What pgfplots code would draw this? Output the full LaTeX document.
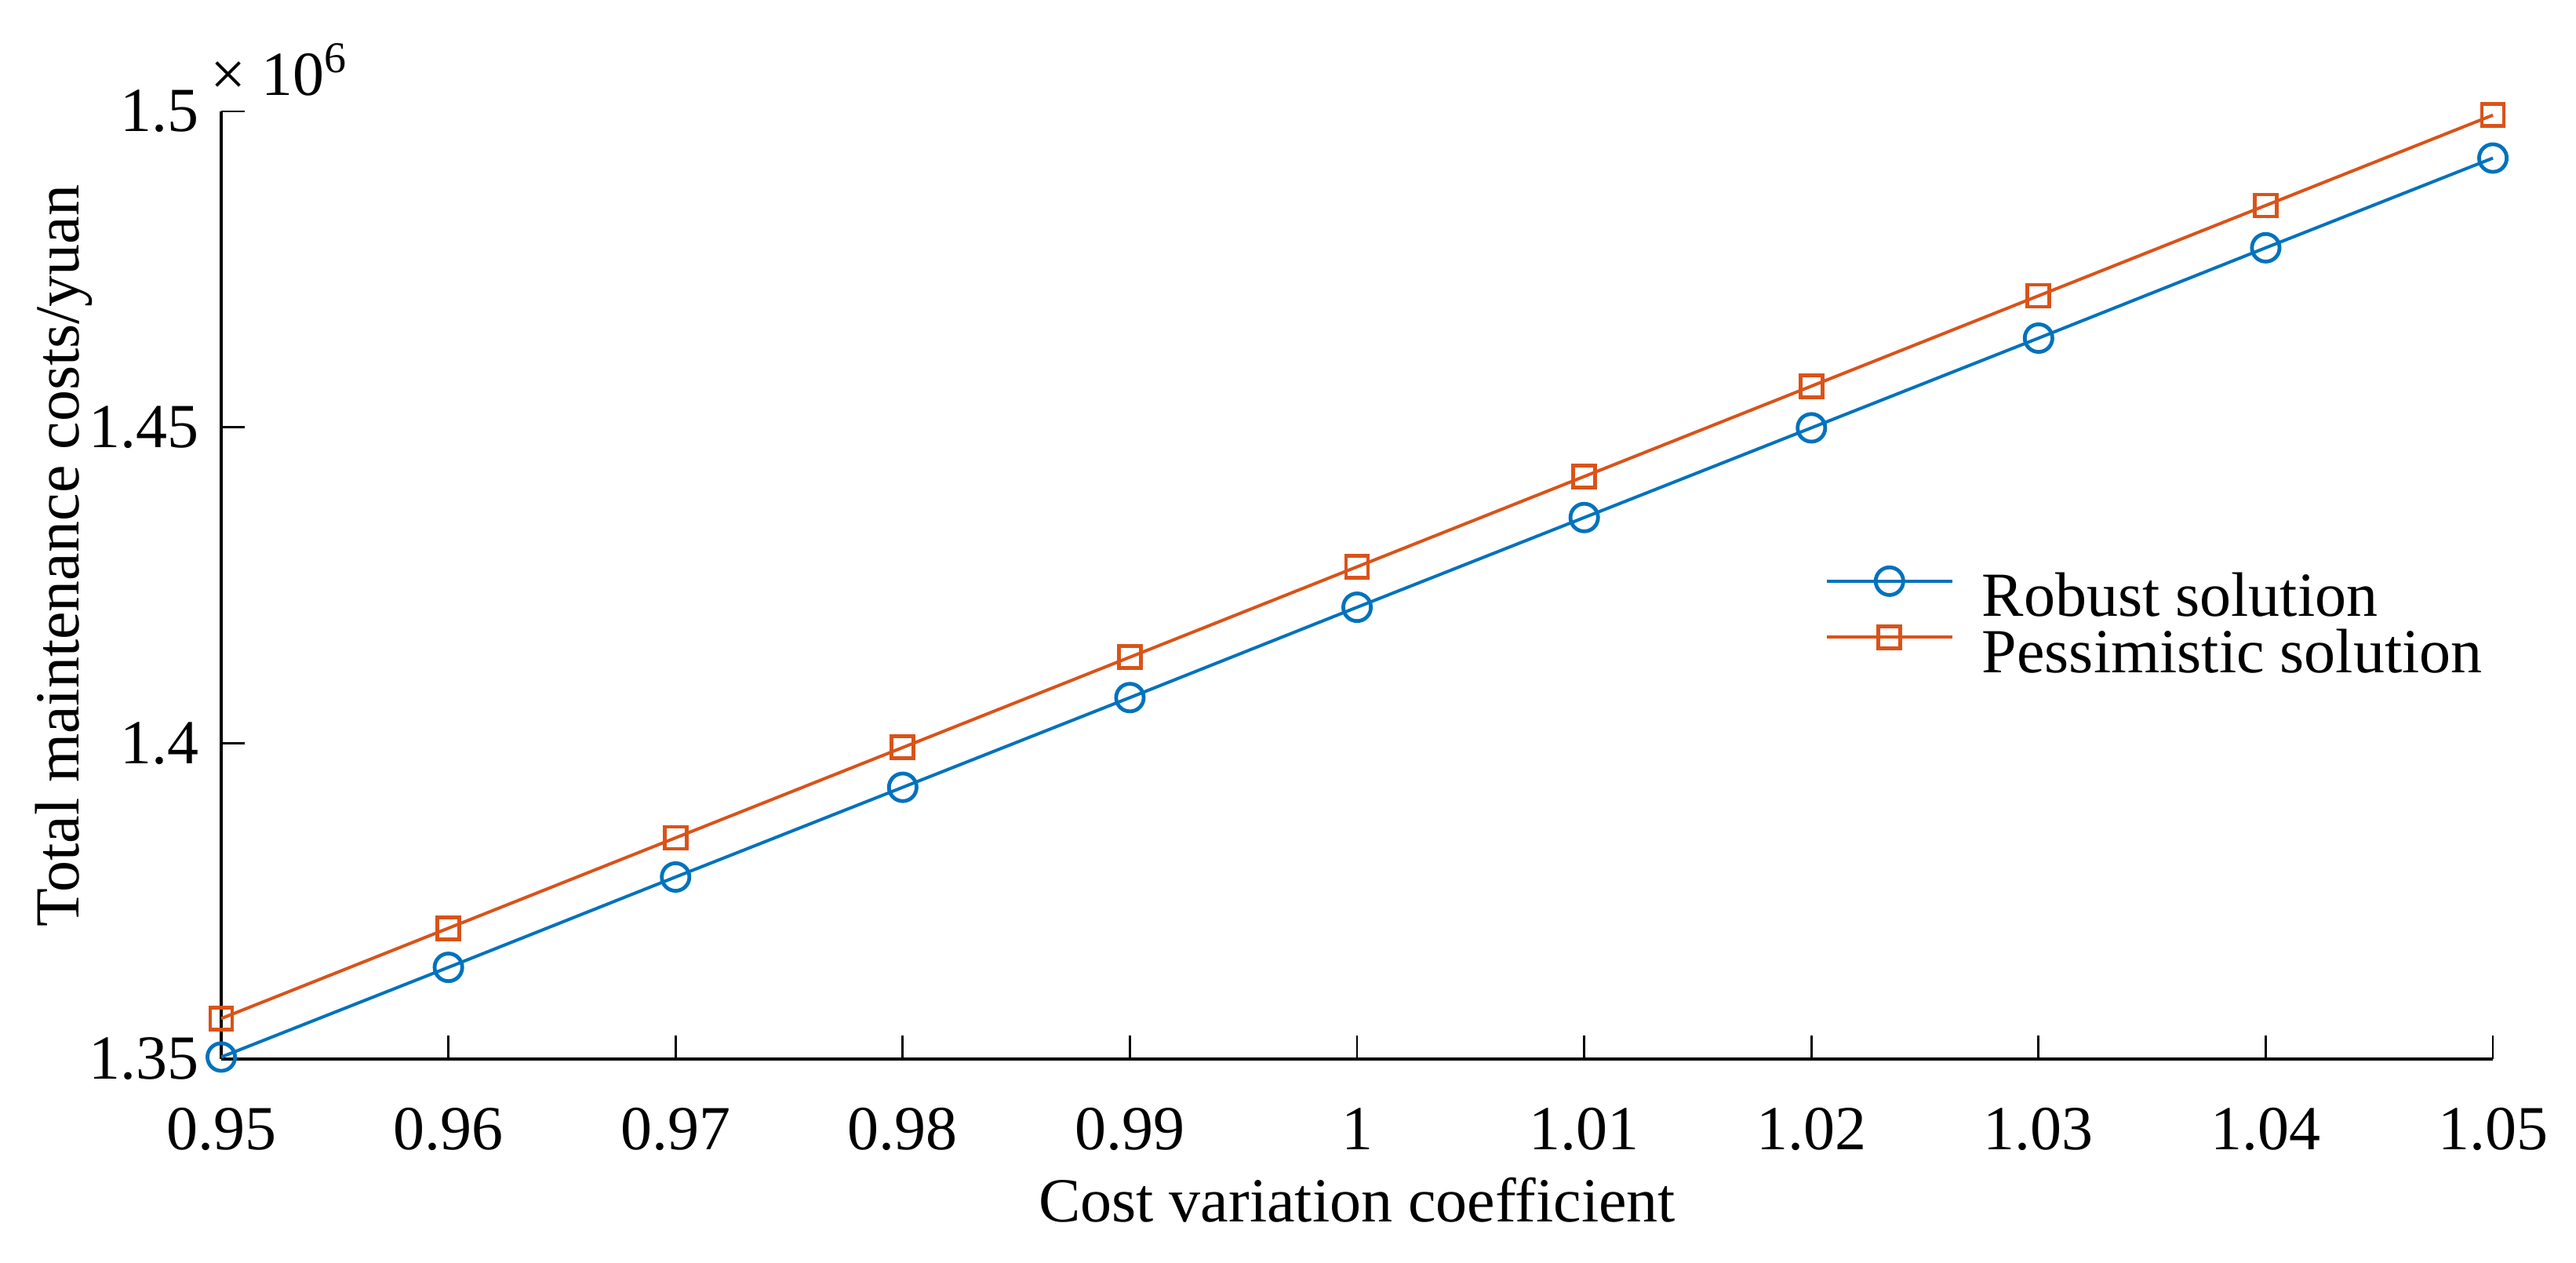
\documentclass[border=0pt]{standalone}
\usepackage{fontspec}
\setmainfont{Liberation Serif}
\usepackage{pgfplots}
\pgfplotsset{compat=1.18}

\definecolor{mblue}{RGB}{0,114,189}
\definecolor{morange}{RGB}{217,83,25}

\begin{document}
\begin{tikzpicture}
\pgfplotsset{
  every tick label/.append style={font=\fontsize{10}{12}\selectfont},
  every non boxed x axis/.append style={xtick align=inside},
  every non boxed y axis/.append style={ytick align=inside},
}
\begin{axis}[
  scale only axis,
  width=362pt, height=151pt,
  font=\fontsize{10}{12}\selectfont,
  xmin=0.95, xmax=1.05,
  ymin=1350000, ymax=1500000,
  axis x line*=bottom, axis y line*=left,
  axis line style={line width=0.45pt, -},
  tick align=inside,
  major tick length=3.7pt,
  tick style={line width=0.35pt, black},
  xtick={0.95,0.96,0.97,0.98,0.99,1,1.01,1.02,1.03,1.04,1.05},
  ytick={1350000,1400000,1450000,1500000},
  scaled y ticks=base 10:-6,
  ytick scale label code/.code={},
  /pgf/number format/assume math mode=true,
  /pgf/number format/precision=2,
  /pgf/number format/fixed,
  xticklabel style={anchor=base, yshift=-14.5pt},
  yticklabel style={/pgf/number format/fixed, /pgf/number format/precision=2},
  xlabel={Cost variation coefficient},
  ylabel={Total maintenance costs/yuan},
  x label style={at={(rel axis cs:0.5,-0.1722)}, anchor=base, inner sep=0pt},
  y label style={at={(rel axis cs:-0.0628,0.531)}, anchor=base, inner sep=0pt},
  clip=false,
  legend cell align=left,
  legend style={
    draw=none, fill=none, inner sep=0pt,
    at={(rel axis cs:0.7055,0.458)}, anchor=west,
    row sep=0pt, column sep=4.5pt,
    nodes={inner sep=0pt, text height=6.2pt, text depth=1.6pt},
    font=\fontsize{10}{12}\selectfont,
  },
  legend image code/.code={
    \draw[mark repeat=2,mark phase=2,#1] plot coordinates {(0pt,3.3pt) (10pt,3.3pt) (20pt,3.3pt)};
  },
]

% robust solution
\addplot[color=mblue, line width=0.5pt, mark=o, mark size=2.2pt,
  mark options={line width=0.6pt}] coordinates {
(0.95,1350300) (0.96,1364500) (0.97,1378800) (0.98,1393000)
(0.99,1407200) (1.00,1421500) (1.01,1435700) (1.02,1449900)
(1.03,1464100) (1.04,1478400) (1.05,1492600)
};
\addlegendentry{Robust solution}

% pessimistic solution
\addplot[color=morange, line width=0.5pt, mark=square, mark size=1.75pt,
  mark options={line width=0.6pt}] coordinates {
(0.95,1356400) (0.96,1370700) (0.97,1385000) (0.98,1399300)
(0.99,1413600) (1.00,1427900) (1.01,1442200) (1.02,1456500)
(1.03,1470800) (1.04,1485100) (1.05,1499400)
};
\addlegendentry{Pessimistic solution}

\node[anchor=base west, inner sep=0pt, xshift=-1.9pt, yshift=2.6pt]
  at (rel axis cs:0,1) {× 10\textsuperscript{6}};

% page extent
\path (rel axis cs:-0.0974,-0.2152) rectangle (rel axis cs:1.0366,1.1175);
\end{axis}
\end{tikzpicture}
\end{document}
